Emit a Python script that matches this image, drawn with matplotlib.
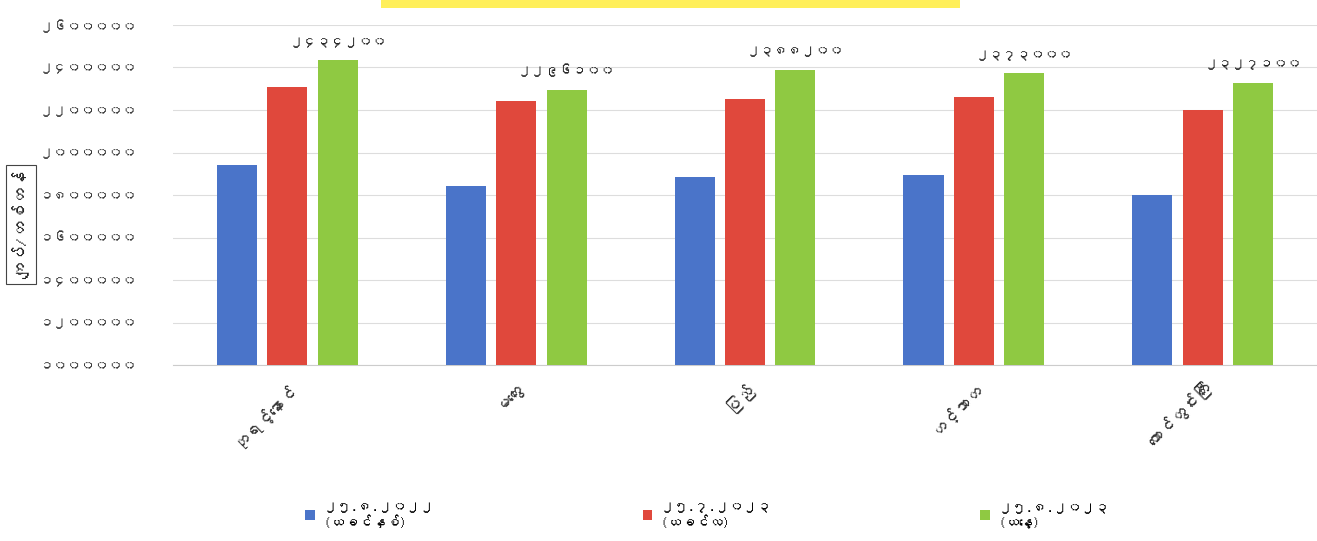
import matplotlib
matplotlib.use("Agg")
import matplotlib.pyplot as plt
from matplotlib import font_manager
from matplotlib.patches import Rectangle
import numpy as np


# ------------------ data ------------------
towns = ["ဘုရင့်နောင်", "မကွေး", "ပြည်", "ဟင်္သာတ", "တောင်တွင်းကြီး"]
series_names = ["၂၅.၈.၂၀၂၂\n(ယခင်နှစ်)", "၂၅.၇.၂၀၂၃\n(ယခင်လ)", "၂၅.၈.၂၀၂၃\n(ယနေ့)"]
prev_year = [1940000, 1843000, 1886000, 1895000, 1800000]
prev_month = [2310000, 2243000, 2253000, 2262000, 2200000]
today = [2434200, 2296100, 2388200, 2373000, 2327100]
today_labels = ["၂၄၃၄၂၀၀", "၂၂၉၆၁၀၀", "၂၃၈၈၂၀၀", "၂၃၇၃၀၀၀", "၂၃၂၇၁၀၀"]
y_ticks = [1000000, 1200000, 1400000, 1600000, 1800000,
           2000000, 2200000, 2400000, 2600000]
y_tick_labels = ["၁၀၀၀၀၀၀", "၁၂၀၀၀၀၀", "၁၄၀၀၀၀၀", "၁၆၀၀၀၀၀", "၁၈၀၀၀၀၀",
                 "၂၀၀၀၀၀၀", "၂၂၀၀၀၀၀", "၂၄၀၀၀၀၀", "၂၆၀၀၀၀၀"]
y_title = "ကျပ်/တစ်တန်"

colors = ["#4A74C9", "#E0483C", "#8FC942"]


# ------------------ font with Myanmar glyphs, if any ------------------
def find_myanmar_font():
    try:
        from fontTools.ttLib import TTFont
    except ImportError:
        return None
    for f in font_manager.fontManager.ttflist:
        try:
            tt = TTFont(f.fname, fontNumber=0, lazy=True)
            cmap = tt.getBestCmap() or {}
            if 0x1000 in cmap and 0x1041 in cmap:
                return f.name
        except Exception:
            continue
    return None


mm_font = find_myanmar_font()
families = ([mm_font] if mm_font else []) + ["DejaVu Sans"]
plt.rcParams['font.family'] = families


fig = plt.figure(figsize=(13.17, 5.41), dpi=100)
ax = fig.add_axes([0.1314, 0.3253, 0.8686, 0.6285])

x = np.arange(len(towns))
w = 0.175
step = 0.22
for i, (vals, c, name) in enumerate(zip([prev_year, prev_month, today], colors, series_names)):
    ax.bar(x + (i - 1) * step, vals, width=w, color=c, label=name, zorder=3)

for xi, v, lab in zip(x, today, today_labels):
    ax.annotate(lab, (xi + step, v), xytext=(0, 9), textcoords="offset points",
                ha="center", va="bottom", fontsize=10, color="#222222")

ax.set_xlim(-0.5, len(towns) - 0.5)
ax.set_ylim(1000000, 2600000)
ax.set_yticks(y_ticks)
ax.set_yticklabels(y_tick_labels, fontsize=10, color="#333333")
ax.set_xticks(x)
ax.set_xticklabels(towns, rotation=45, ha="right", rotation_mode="anchor",
                   fontsize=12, color="#333333")
ax.tick_params(axis="both", length=0)
ax.tick_params(axis="y", pad=26)
ax.tick_params(axis="x", pad=10)
ax.grid(axis="y", color="#DDDDDD", linewidth=0.8, zorder=0)
for s in ["top", "right", "left"]:
    ax.spines[s].set_visible(False)
ax.spines["bottom"].set_color("#CCCCCC")

fig.text(0.016, 0.585, y_title, rotation=90, ha="center", va="center", fontsize=12,
         color="#222222",
         bbox=dict(boxstyle="square,pad=0.35", facecolor="white", edgecolor="#444444", linewidth=0.8))

fig.legend(loc="center", bbox_to_anchor=(0.537, 0.048), ncol=3, frameon=False,
           fontsize=10, handlelength=0.7, handleheight=0.7, columnspacing=15,
           handletextpad=0.6, labelspacing=0.2)

# yellow title strip at the top edge
fig.patches.append(Rectangle((0.289, 0.985), 0.44, 0.02, transform=fig.transFigure,
                             facecolor="#FFEF5A", edgecolor="none"))

fig.savefig("out.png", dpi=100, facecolor="white")
